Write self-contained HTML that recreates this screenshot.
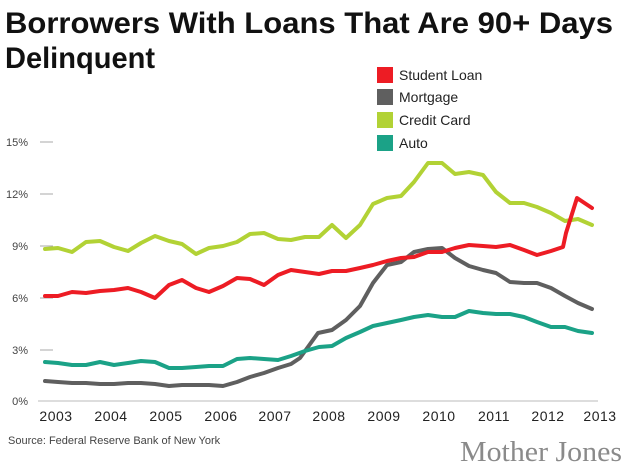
<!DOCTYPE html>
<html><head><style>body{margin:0;background:#fff}svg{display:block}</style></head><body>
<svg width="630" height="471" xmlns="http://www.w3.org/2000/svg" font-family="Liberation Sans, sans-serif">
<rect width="630" height="471" fill="#fff"/>
<text x="5" y="33" font-size="30" font-weight="bold" fill="#111" textLength="608" lengthAdjust="spacingAndGlyphs">Borrowers With Loans That Are 90+ Days</text>
<text x="5" y="68" font-size="30" font-weight="bold" fill="#111" textLength="150" lengthAdjust="spacingAndGlyphs">Delinquent</text>
<g font-size="14" fill="#222">
<rect x="377" y="67" width="16" height="16" fill="#ed1c24"/><text x="399" y="80">Student Loan</text>
<rect x="377" y="89" width="16" height="16" fill="#5f5f5f"/><text x="399" y="102">Mortgage</text>
<rect x="377" y="112" width="16" height="16" fill="#b2d235"/><text x="399" y="125">Credit Card</text>
<rect x="377" y="135" width="16" height="16" fill="#1ba287"/><text x="399" y="148">Auto</text>
</g>
<g stroke="#aaa" stroke-width="1"><line x1="40" y1="142" x2="53" y2="142"/><line x1="40" y1="194" x2="53" y2="194"/><line x1="40" y1="246" x2="53" y2="246"/><line x1="40" y1="298" x2="53" y2="298"/><line x1="40" y1="350" x2="53" y2="350"/><line x1="38" y1="401" x2="598" y2="401" stroke="#bbb"/></g>
<g font-size="11" fill="#444" text-anchor="end"><text x="28" y="146">15%</text><text x="28" y="198">12%</text><text x="28" y="250">9%</text><text x="28" y="302">6%</text><text x="28" y="354">3%</text><text x="28" y="405">0%</text></g>
<g font-size="14" fill="#222" text-anchor="middle" letter-spacing="0.5"><text x="56" y="421">2003</text><text x="111" y="421">2004</text><text x="166" y="421">2005</text><text x="221" y="421">2006</text><text x="275" y="421">2007</text><text x="329" y="421">2008</text><text x="384" y="421">2009</text><text x="439" y="421">2010</text><text x="494" y="421">2011</text><text x="548" y="421">2012</text><text x="600" y="421">2013</text></g>
<g fill="none" stroke-width="4" stroke-linejoin="round" stroke-linecap="round">
<polyline stroke="#b2d235" points="45,249 58,248 72,252 86,242 100,241 114,247 128,251 141,243 155,236 169,241 182,244 196,254 209,248 223,246 237,242 250,234 264,233 278,239 291,240 305,237 319,237 332,225 346,238 360,225 373,204 387,198 401,196 414,182 428,163 442,163 455,174 469,172 483,175 496,192 510,203 524,203 537,207 551,213 565,221 578,219 592,225"/>
<polyline stroke="#5f5f5f" points="45,381 58,382 72,383 86,383 100,384 114,384 128,383 141,383 155,384 169,386 182,385 196,385 209,385 223,386 237,382 250,377 264,373 278,368 291,364 300,358 318,333 332,330 346,320 360,306 373,283 387,265 401,262 414,252 428,249 442,248 455,258 469,266 483,270 496,273 510,282 524,283 537,283 551,288 565,296 578,303 592,309"/>
<polyline stroke="#1ba287" points="45,362 58,363 72,365 86,365 100,362 114,365 128,363 141,361 155,362 169,368 182,368 196,367 209,366 223,366 237,359 250,358 264,359 278,360 291,356 305,351 319,347 332,346 346,338 360,332 373,326 387,323 401,320 414,317 428,315 442,317 455,317 469,311 483,313 496,314 510,314 524,317 537,322 551,327 565,327 578,331 592,333"/>
<polyline stroke="#ed1c24" points="45,296 58,296 72,292 86,293 100,291 114,290 128,288 141,292 155,298 169,285 182,280 196,288 209,292 223,286 237,278 250,279 264,285 278,275 291,270 305,272 319,274 332,271 346,271 360,268 373,265 387,261 401,258 414,257 428,252 442,252 455,248 469,245 483,246 496,247 510,245 524,250 537,255 551,251 563,247 566,233 577,198 592,208"/>
</g>
<text x="8" y="444" font-size="11" fill="#444">Source: Federal Reserve Bank of New York</text>
<text x="622" y="461" font-size="29" fill="#8a8a8a" text-anchor="end" font-family="Liberation Serif, serif" textLength="162" lengthAdjust="spacingAndGlyphs">Mother Jones</text>
</svg>
</body></html>
